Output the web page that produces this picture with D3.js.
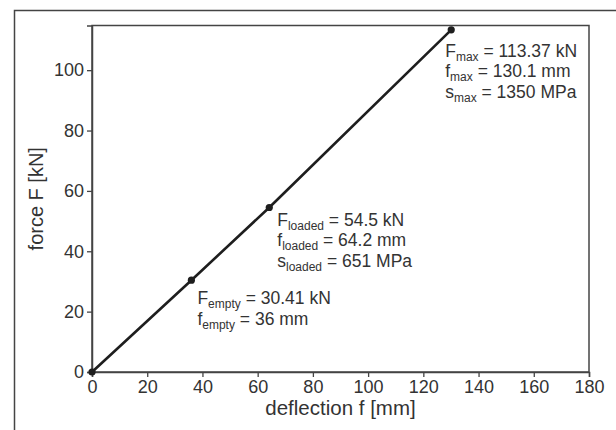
<!DOCTYPE html>
<html>
<head>
<meta charset="utf-8">
<script src="https://cdn.jsdelivr.net/npm/d3@7"></script>
<style>
  body { margin: 0; background: #fff; }
  svg text { font-family: "Liberation Sans", Arial, sans-serif; fill: #333; }
</style>
</head>
<body>
<div id="chart"></div>
<script>
// measured points: deflection [mm] vs force [kN]
const deflection = [0, 36, 64.2, 130.1];
const force = [0, 30.41, 54.5, 113.37];
const xTicks = [0, 20, 40, 60, 80, 100, 120, 140, 160, 180];
const yTicks = [0, 20, 40, 60, 80, 100];

// annotation lines: [main, subscript, rest]
const notes = [
    { idx: 1, dx: 6, dy: 24, lines: [["F", "empty", " = 30.41 kN"], ["f", "empty", " = 36 mm"]] },
    { idx: 2, dx: 8, dy: 18, lines: [["F", "loaded", " = 54.5 kN"], ["f", "loaded", " = 64.2 mm"], ["s", "loaded", " = 651 MPa"]] },
    { idx: 3, dx: -6, dy: 27, lines: [["F", "max", " = 113.37 kN"], ["f", "max", " = 130.1 mm"], ["s", "max", " = 1350 MPa"]] }
];

const width = 616, height = 430;
const margin = { top: 25.5, right: 27, bottom: 58, left: 92 };

const svg = d3.select("#chart").append("svg")
    .attr("width", width)
    .attr("height", height);

// outer frame (only left and top edges are visible)
svg.append("rect")
    .attr("x", 14.5).attr("y", 10.5)
    .attr("width", 800).attr("height", 600)
    .attr("fill", "none")
    .attr("stroke", "#444")
    .attr("stroke-width", 1.5);

const x = d3.scaleLinear()
    .domain([0, 180])
    .range([margin.left, width - margin.right]);

const y = d3.scaleLinear()
    .domain([0, 114.8])
    .range([height - margin.bottom, margin.top]);

// plot box
svg.append("rect")
    .attr("x", x(0)).attr("y", y(114.8))
    .attr("width", x(180) - x(0))
    .attr("height", y(0) - y(114.8))
    .attr("fill", "none")
    .attr("stroke", "#444")
    .attr("stroke-width", 1.5);

const xAxis = svg.append("g")
    .attr("transform", `translate(0,${y(0)})`)
    .call(d3.axisBottom(x).tickValues(xTicks).tickSize(5).tickPadding(3));

const yAxis = svg.append("g")
    .attr("transform", `translate(${x(0)},0)`)
    .call(d3.axisLeft(y).tickValues(yTicks).tickSize(5).tickPadding(3));

[xAxis, yAxis].forEach(g => {
    g.select(".domain").attr("stroke", "#444").attr("stroke-width", 1.5);
    g.selectAll(".tick line").attr("stroke", "#444").attr("stroke-width", 1.3);
    g.selectAll(".tick text")
        .attr("font-size", 18)
        .attr("font-family", "Liberation Sans, Arial, sans-serif")
        .attr("fill", "#333");
});

// axis titles
svg.append("text")
    .attr("x", (x(0) + x(180)) / 2)
    .attr("y", 415)
    .attr("text-anchor", "middle")
    .attr("font-size", 20.5)
    .text("deflection f [mm]");

svg.append("text")
    .attr("transform", `translate(43,${(y(0) + y(114.8)) / 2}) rotate(-90)`)
    .attr("text-anchor", "middle")
    .attr("font-size", 20)
    .text("force F [kN]");

const pts = deflection.map((d, i) => ({ d: d, f: force[i] }));

svg.append("path")
    .datum(pts)
    .attr("fill", "none")
    .attr("stroke", "#1e1e1e")
    .attr("stroke-width", 2.6)
    .attr("d", d3.line().x(p => x(p.d)).y(p => y(p.f)));

svg.append("g")
    .selectAll("circle")
    .data(pts)
    .enter().append("circle")
    .attr("cx", p => x(p.d))
    .attr("cy", p => y(p.f))
    .attr("r", 3.6)
    .attr("fill", "#1e1e1e");

// annotations
notes.forEach(n => {
    const px = x(deflection[n.idx]) + n.dx;
    const py = y(force[n.idx]) + n.dy;
    n.lines.forEach((ln, k) => {
        const t = svg.append("text")
            .attr("x", px)
            .attr("y", py + k * 20.5)
            .attr("font-size", 17.5);
        t.append("tspan").text(ln[0]);
        t.append("tspan").attr("font-size", 12).attr("dy", 4).text(ln[1]);
        t.append("tspan").attr("dy", -4).text(ln[2]);
    });
});
</script>
</body>
</html>
